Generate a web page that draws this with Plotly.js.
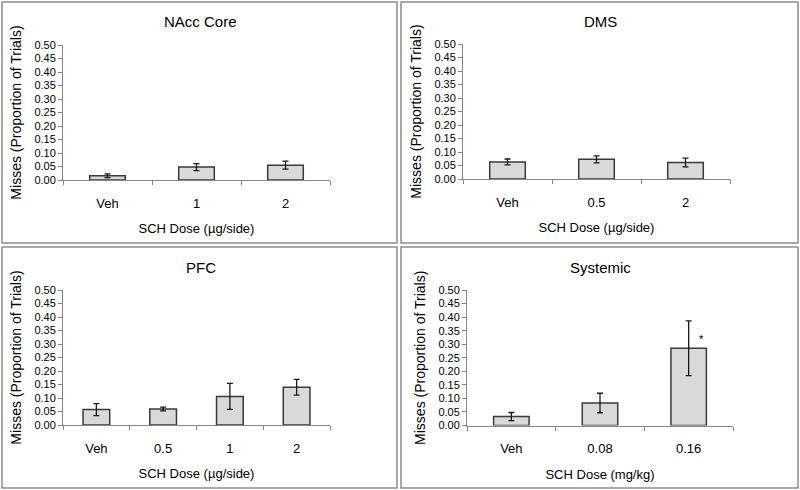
<!DOCTYPE html>
<html>
<head>
<meta charset="utf-8">
<script src="https://cdn.plot.ly/plotly-3.0.1.min.js"></script>
<style>
  html, body { margin: 0; padding: 0; background: #fff; }
  #plot { width: 800px; height: 490px; }
</style>
</head>
<body>
<div id="plot"></div>
<script>
// misses as proportion of trials, mean and SEM per dose
const titles = ["NAcc Core", "DMS", "PFC", "Systemic"];
const xTitles = ["SCH Dose (µg/side)", "SCH Dose (µg/side)", "SCH Dose (µg/side)", "SCH Dose (mg/kg)"];

const nacDoses = ["Veh", "1", "2"];
const nacMean = [0.016, 0.048, 0.055];
const nacSem = [0.007, 0.013, 0.015];

const dmsDoses = ["Veh", "0.5", "2"];
const dmsMean = [0.063, 0.073, 0.061];
const dmsSem = [0.011, 0.013, 0.016];

const pfcDoses = ["Veh", "0.5", "1", "2"];
const pfcMean = [0.057, 0.059, 0.106, 0.140];
const pfcSem = [0.022, 0.007, 0.048, 0.029];

const sysDoses = ["Veh", "0.08", "0.16"];
const sysMean = [0.033, 0.083, 0.285];
const sysSem = [0.015, 0.036, 0.101];

const starLabel = "*";

const W = 800, H = 490;
const px = v => v / W;
const py = v => 1 - v / H;
const FONT = "Liberation Sans, Arial, sans-serif";

// pixel boxes: [left, right, top, bottom] of each plot area and each frame
const plotBoxes = [
  [63, 330, 45, 180],
  [463, 730, 44, 179],
  [63, 330, 290, 425],
  [467, 733, 290, 425.5]
];
const frames = [
  [2, 397, 2, 243],
  [401, 798, 2, 243],
  [2, 397, 247, 488],
  [401, 798, 247, 488]
];
const titleY = [22, 22, 267, 267];

const groups = [
  [nacDoses, nacMean, nacSem],
  [dmsDoses, dmsMean, dmsSem],
  [pfcDoses, pfcMean, pfcSem],
  [sysDoses, sysMean, sysSem]
];

const traces = groups.map((g, i) => ({
  type: "bar",
  x: g[0],
  y: g[1],
  width: 0.4,
  xaxis: i === 0 ? "x" : "x" + (i + 1),
  yaxis: i === 0 ? "y" : "y" + (i + 1),
  marker: { color: "#d9d9d9", line: { color: "#3a3a3a", width: 1.5 } },
  error_y: { type: "data", array: g[2], visible: true, color: "#1a1a1a", thickness: 1.3, width: 3 },
  showlegend: false,
  hoverinfo: "x+y"
}));

const layout = {
  width: W,
  height: H,
  margin: { l: 0, r: 0, t: 0, b: 0 },
  paper_bgcolor: "#fff",
  plot_bgcolor: "#fff",
  font: { family: FONT, color: "#000" },
  showlegend: false,
  shapes: [],
  annotations: []
};

plotBoxes.forEach((b, i) => {
  const sfx = i === 0 ? "" : String(i + 1);
  const n = groups[i][0].length;
  layout["xaxis" + sfx] = {
    domain: [px(b[0]), px(b[1])],
    anchor: "y" + sfx,
    type: "category",
    range: [-0.5, n - 0.5],
    tickson: "boundaries",
    ticks: "outside",
    ticklen: 4,
    tickcolor: "#868686",
    showline: true,
    linecolor: "#868686",
    linewidth: 1,
    showgrid: false,
    zeroline: false,
    tickfont: { family: FONT, size: 13, color: "#000" },
    ticklabelstandoff: 11,
    title: { text: xTitles[i], font: { family: FONT, size: 13, color: "#000" }, standoff: 14 },
    automargin: false,
    fixedrange: true
  };
  layout["yaxis" + sfx] = {
    domain: [py(b[3]), py(b[2])],
    anchor: "x" + sfx,
    range: [0, 0.5],
    dtick: 0.05,
    tick0: 0,
    tickformat: ".2f",
    ticks: "outside",
    ticklen: 4,
    tickcolor: "#868686",
    showline: true,
    linecolor: "#868686",
    linewidth: 1,
    showgrid: false,
    zeroline: false,
    tickfont: { family: FONT, size: 11, color: "#000" },
    title: { text: "Misses (Proportion of Trials)", font: { family: FONT, size: 14, color: "#000" }, standoff: 9 },
    automargin: false,
    fixedrange: true
  };
  const f = frames[i];
  layout.shapes.push({
    type: "rect", xref: "paper", yref: "paper",
    x0: px(f[0]), x1: px(f[1]), y0: py(f[3]), y1: py(f[2]),
    line: { color: "#8c8c8c", width: 1.5 }, fillcolor: "rgba(0,0,0,0)"
  });
  layout.annotations.push({
    xref: "paper", yref: "paper",
    x: px((f[0] + f[1]) / 2 + 1), y: py(titleY[i]),
    xanchor: "center", yanchor: "middle",
    text: titles[i], showarrow: false,
    font: { family: FONT, size: 15, color: "#000" }
  });
});

// significance marker over the 0.16 mg/kg bar (category index, since the label looks numeric)
layout.annotations.push({
  xref: "x4", yref: "y4",
  x: sysDoses.indexOf("0.16"), y: sysMean[2] + 0.035,
  xshift: 13,
  text: starLabel, showarrow: false,
  font: { family: FONT, size: 11, color: "#000" }
});

Plotly.newPlot("plot", traces, layout, { displayModeBar: false, staticPlot: true });
</script>
</body>
</html>
